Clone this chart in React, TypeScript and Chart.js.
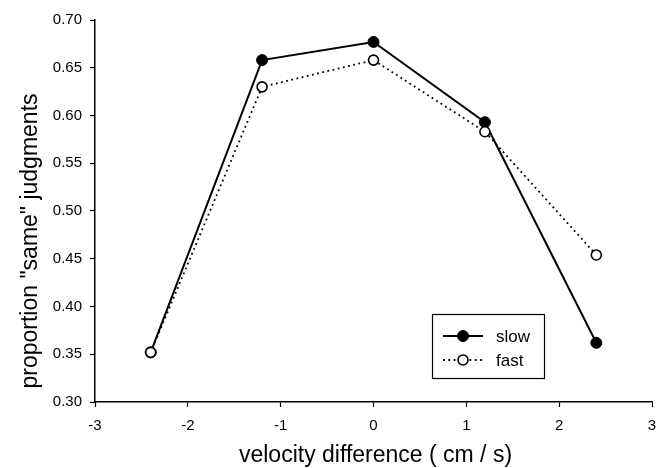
import React, { useEffect, useRef } from "react";
import { Chart, registerables } from "chart.js";

Chart.register(...registerables);

const velocities = [-2.4, -1.2, 0, 1.2, 2.4];
const slowValues = [0.352, 0.658, 0.677, 0.593, 0.362];
const fastValues = [0.352, 0.630, 0.658, 0.583, 0.454];
const seriesNames = ["slow", "fast"];
const xTitle = "velocity difference ( cm / s)";
const yTitle = 'proportion "same" judgments';
const FONT = "'Liberation Sans', Arial, Helvetica, sans-serif";

const customPlugin = {
  id: "customDecor",
  afterDraw(chart: any) {
    const ctx = chart.ctx;
    const area = chart.chartArea;
    ctx.save();
    ctx.fillStyle = "#000";
    ctx.font = `23px ${FONT}`;
    ctx.textAlign = "center";
    ctx.textBaseline = "alphabetic";
    ctx.fillText(xTitle, (area.left + area.right) / 2 + 2, 462);
    ctx.save();
    ctx.translate(37, (area.top + area.bottom) / 2 + 30);
    ctx.rotate(-Math.PI / 2);
    ctx.fillText(yTitle, 0, 0);
    ctx.restore();

    const bx = 432, by = 314, bw = 112, bh = 64;
    ctx.fillStyle = "#fff";
    ctx.fillRect(bx, by, bw, bh);
    ctx.strokeStyle = "#000";
    ctx.lineWidth = 1.2;
    ctx.strokeRect(bx + 0.5, by + 0.5, bw, bh);
    const rows = [336, 360];
    chart.data.datasets.forEach((ds: any, i: number) => {
      const y = rows[i];
      ctx.save();
      ctx.strokeStyle = "#000";
      ctx.lineWidth = ds.borderWidth;
      ctx.setLineDash(ds.borderDash || []);
      ctx.beginPath();
      ctx.moveTo(443, y);
      ctx.lineTo(483, y);
      ctx.stroke();
      ctx.setLineDash([]);
      ctx.beginPath();
      ctx.arc(463, y, ds.pointRadius, 0, Math.PI * 2);
      ctx.fillStyle = ds.pointBackgroundColor;
      ctx.fill();
      ctx.lineWidth = ds.pointBorderWidth;
      ctx.strokeStyle = ds.pointBorderColor;
      ctx.stroke();
      ctx.fillStyle = "#000";
      ctx.font = `17px ${FONT}`;
      ctx.textAlign = "left";
      ctx.textBaseline = "middle";
      ctx.fillText(ds.label, 496, y + 1);
      ctx.restore();
    });
    ctx.restore();
  },
};

export default function App() {
  const ref = useRef<HTMLCanvasElement>(null);
  useEffect(() => {
    if (!ref.current) return;
    const chart = new Chart(ref.current, {
      type: "line",
      data: {
        datasets: [
          {
            label: seriesNames[0],
            data: velocities.map((x, i) => ({ x, y: slowValues[i] })),
            borderColor: "#000",
            borderWidth: 2,
            pointRadius: 5.5,
            pointBackgroundColor: "#000",
            pointBorderColor: "#000",
            pointBorderWidth: 1,
            tension: 0,
            order: 2,
          },
          {
            label: seriesNames[1],
            data: velocities.map((x, i) => ({ x, y: fastValues[i] })),
            borderColor: "#000",
            borderWidth: 1.8,
            borderDash: [1.8, 3.5],
            pointRadius: 5,
            pointBackgroundColor: "#fff",
            pointBorderColor: "#000",
            pointBorderWidth: 1.6,
            tension: 0,
            order: 1,
          } as any,
        ],
      },
      options: {
        animation: false,
        responsive: false,
        layout: { padding: { top: 20, right: 16, left: 0, bottom: 0 } },
        plugins: { legend: { display: false }, tooltip: { enabled: false } },
        scales: {
          x: {
            type: "linear",
            min: -3,
            max: 3,
            ticks: {
              stepSize: 1,
              color: "#000",
              font: { family: FONT, size: 15 },
              padding: 10,
              callback: (v: any) => String(v),
            },
            grid: { drawOnChartArea: false, color: "#000", tickLength: 5, tickWidth: 1.2 },
            border: { display: true, color: "#000", width: 1.5 },
            afterFit: (s: any) => { s.height = 66; },
          },
          y: {
            type: "linear",
            min: 0.3,
            max: 0.7,
            ticks: {
              stepSize: 0.05,
              color: "#000",
              font: { family: FONT, size: 15 },
              padding: 8,
              callback: (v: any) => Number(v).toFixed(2),
            },
            grid: { drawOnChartArea: false, color: "#000", tickLength: 5, tickWidth: 1.2 },
            border: { display: true, color: "#000", width: 1.5 },
            afterFit: (s: any) => { s.width = 95; },
          },
        },
      },
      plugins: [customPlugin],
    });
    return () => chart.destroy();
  }, []);
  return (
    <div style={{ position: "absolute", left: 0, top: 0, width: 668, height: 468 }}>
      <canvas ref={ref} width={668} height={468} style={{ display: "block" }} />
    </div>
  );
}
